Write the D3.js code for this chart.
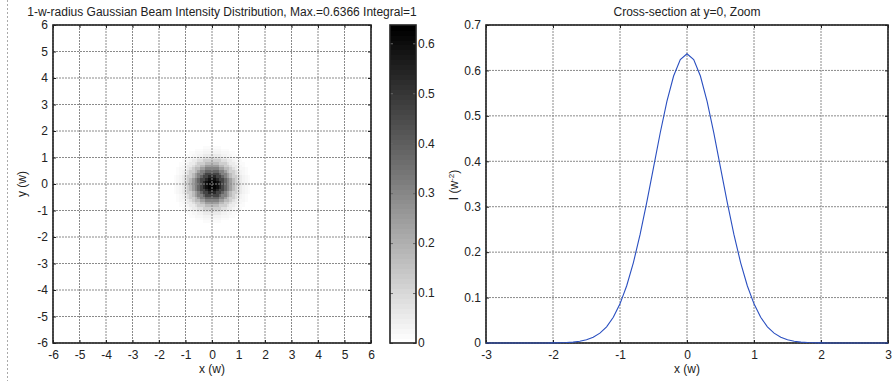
<!DOCTYPE html>
<html><head><meta charset="utf-8">
<script src="https://cdn.jsdelivr.net/npm/d3@7"></script>
<style>
body{margin:0;background:#fff;}
text{font-family:"Liberation Sans",Arial,sans-serif;font-size:12px;fill:#222;}
</style></head>
<body>
<svg id="c" width="896" height="381"></svg>
<script>
// ---- data ----
const leftTitle = "1-w-radius Gaussian Beam Intensity Distribution, Max.=0.6366 Integral=1";
const rightTitle = "Cross-section at y=0, Zoom";
const maxIntensity = 0.6366;
const mapTicks = [-6,-5,-4,-3,-2,-1,0,1,2,3,4,5,6];
const cbarTicks = [0,0.1,0.2,0.3,0.4,0.5,0.6];
const xsTicksX = [-3,-2,-1,0,1,2,3];
const xsTicksY = [0,0.1,0.2,0.3,0.4,0.5,0.6,0.7];
const profileR = [0,0.1,0.2,0.3,0.4,0.5,0.6,0.7,0.8,0.9,1.0,1.1,1.2,1.3,1.4,1.5,1.6,1.7,1.8,1.9,2.0,2.1,2.2,2.3,2.4,2.5,2.6,2.7,2.8,2.9,3.0];
const profileI = [0.6366,0.6240,0.5877,0.5318,0.4623,0.3861,0.3099,0.2389,0.1770,0.1260,0.0862,0.0566,0.0357,0.0217,0.0126,0.0071,0.0038,0.0020,0.0010,0.0005,0.0002,0.0001,0,0,0,0,0,0,0,0,0];
const gridStep = 0.1;
const colorLevels = 64;

const svg = d3.select("#c");
const fmt = d => String(d);

// dotted separator at left
svg.append("line").attr("x1",7.5).attr("x2",7.5).attr("y1",0).attr("y2",381)
  .attr("stroke","#aaa").attr("stroke-dasharray","2,2");

// ---------- left map ----------
const L = {x0:53,x1:371,y0:25,y1:343};
const mx = d3.scaleLinear().domain([-6,6]).range([L.x0,L.x1]);
const my = d3.scaleLinear().domain([-6,6]).range([L.y1,L.y0]);
const gray = v => {
  const lvl = Math.min(colorLevels-1, Math.floor(v/maxIntensity*colorLevels));
  const g = Math.round(255*(1 - lvl/(colorLevels-1)));
  return d3.rgb(g,g,g).toString();
};
const cells = [];
const n = Math.round(12/gridStep);
for (let i=0;i<=n;i++){
  for (let j=0;j<=n;j++){
    const x = -6 + i*gridStep, y = -6 + j*gridStep;
    const k = Math.round(Math.hypot(x,y)/gridStep);
    const v = k < profileI.length ? profileI[k] : 0;
    if (v > 0.0001) cells.push({x,y,v});
  }
}
const cw = mx(gridStep)-mx(0);
const gMap = svg.append("g");
gMap.append("defs").append("clipPath").attr("id","clipL").append("rect")
  .attr("x",L.x0).attr("y",L.y0).attr("width",L.x1-L.x0).attr("height",L.y1-L.y0);
gMap.append("g").attr("clip-path","url(#clipL)").attr("shape-rendering","crispEdges")
  .selectAll("rect").data(cells).join("rect")
  .attr("x",d=>mx(d.x)-cw/2).attr("y",d=>my(d.y)-cw/2)
  .attr("width",cw+0.6).attr("height",cw+0.6).attr("fill",d=>gray(d.v));

function grid(g, xs, ys, xScale, yScale, box){
  g.selectAll(".gx").data(xs).join("line").attr("class","gx")
    .attr("x1",d=>xScale(d)).attr("x2",d=>xScale(d)).attr("y1",box.y0).attr("y2",box.y1)
    .attr("stroke","#8a8a8a").attr("stroke-width",1).attr("stroke-dasharray","2,1");
  g.selectAll(".gy").data(ys).join("line").attr("class","gy")
    .attr("y1",d=>yScale(d)).attr("y2",d=>yScale(d)).attr("x1",box.x0).attr("x2",box.x1)
    .attr("stroke","#8a8a8a").attr("stroke-width",1).attr("stroke-dasharray","2,1");
}
function styleAxis(g){
  g.selectAll(".domain").remove();
  g.selectAll(".tick line").attr("stroke","#222");
  g.selectAll(".tick text").attr("fill","#222").style("font-size","12px")
    .style("font-family","'Liberation Sans',Arial,sans-serif");
}
function frame(g, xScale, yScale, xs, ys, box){
  g.append("g").attr("transform",`translate(0,${box.y1})`)
    .call(d3.axisBottom(xScale).tickValues(xs).tickSize(-3).tickPadding(7).tickFormat(fmt));
  g.append("g").attr("transform",`translate(0,${box.y0})`)
    .call(d3.axisTop(xScale).tickValues(xs).tickSize(-3).tickFormat(""));
  g.append("g").attr("transform",`translate(${box.x0},0)`)
    .call(d3.axisLeft(yScale).tickValues(ys).tickSize(-3).tickPadding(5).tickFormat(fmt));
  g.append("g").attr("transform",`translate(${box.x1},0)`)
    .call(d3.axisRight(yScale).tickValues(ys).tickSize(-3).tickFormat(""));
  styleAxis(g);
  g.append("rect").attr("x",box.x0).attr("y",box.y0).attr("width",box.x1-box.x0).attr("height",box.y1-box.y0)
    .attr("fill","none").attr("stroke","#222").attr("stroke-width",1.6);
}
grid(gMap, mapTicks, mapTicks, mx, my, L);
frame(gMap, mx, my, mapTicks, mapTicks, L);
svg.append("text").attr("x",222).attr("y",16).attr("text-anchor","middle").text(leftTitle);
svg.append("text").attr("x",(L.x0+L.x1)/2).attr("y",373).attr("text-anchor","middle").text("x (w)");
svg.append("text").attr("transform",`translate(26,${(L.y0+L.y1)/2}) rotate(-90)`)
  .attr("text-anchor","middle").text("y (w)");

// ---------- colorbar ----------
const C = {x0:390,x1:416,y0:25,y1:343};
const cy = d3.scaleLinear().domain([0,maxIntensity]).range([C.y1,C.y0]);
const levels = d3.range(colorLevels);
const gC = svg.append("g");
gC.append("g").attr("shape-rendering","crispEdges").selectAll("rect").data(levels).join("rect")
  .attr("x",C.x0).attr("width",C.x1-C.x0)
  .attr("y",d=>cy((d+1)*maxIntensity/colorLevels))
  .attr("height",d=>cy(d*maxIntensity/colorLevels)-cy((d+1)*maxIntensity/colorLevels)+0.6)
  .attr("fill",d=>{const g=Math.round(255*(1-d/(colorLevels-1)));return d3.rgb(g,g,g).toString();});
gC.append("g").attr("transform",`translate(${C.x1},0)`)
  .call(d3.axisRight(cy).tickValues(cbarTicks).tickSize(-3).tickPadding(2).tickFormat(fmt));
gC.append("g").attr("transform",`translate(${C.x0},0)`)
  .call(d3.axisLeft(cy).tickValues(cbarTicks).tickSize(-3).tickFormat(""));
styleAxis(gC);
gC.selectAll(".tick line").attr("stroke","#666");
gC.append("rect").attr("x",C.x0).attr("y",C.y0).attr("width",C.x1-C.x0).attr("height",C.y1-C.y0)
  .attr("fill","none").attr("stroke","#222").attr("stroke-width",1.6);

// ---------- right cross-section ----------
const R = {x0:486,x1:888,y0:25,y1:343};
const rx = d3.scaleLinear().domain([-3,3]).range([R.x0,R.x1]);
const ry = d3.scaleLinear().domain([0,0.7]).range([R.y1,R.y0]);
const gR = svg.append("g");
grid(gR, xsTicksX, xsTicksY, rx, ry, R);
frame(gR, rx, ry, xsTicksX, xsTicksY, R);
const pts = [];
for (let k=profileR.length-1;k>0;k--) pts.push([-profileR[k], profileI[k]]);
for (let k=0;k<profileR.length;k++) pts.push([profileR[k], profileI[k]]);
gR.append("path").datum(pts)
  .attr("d", d3.line().x(d=>rx(d[0])).y(d=>ry(d[1])))
  .attr("fill","none").attr("stroke","#2a4fc0").attr("stroke-width",1.1);
svg.append("text").attr("x",(R.x0+R.x1)/2).attr("y",16).attr("text-anchor","middle").text(rightTitle);
svg.append("text").attr("x",(R.x0+R.x1)/2).attr("y",373).attr("text-anchor","middle").text("x (w)");
const yl = svg.append("text").attr("transform",`translate(458,185) rotate(-90)`).attr("text-anchor","middle");
yl.append("tspan").text("I (w");
yl.append("tspan").attr("dy",-4).style("font-size","8px").text("-2");
yl.append("tspan").attr("dy",4).text(")");
</script>
</body></html>
